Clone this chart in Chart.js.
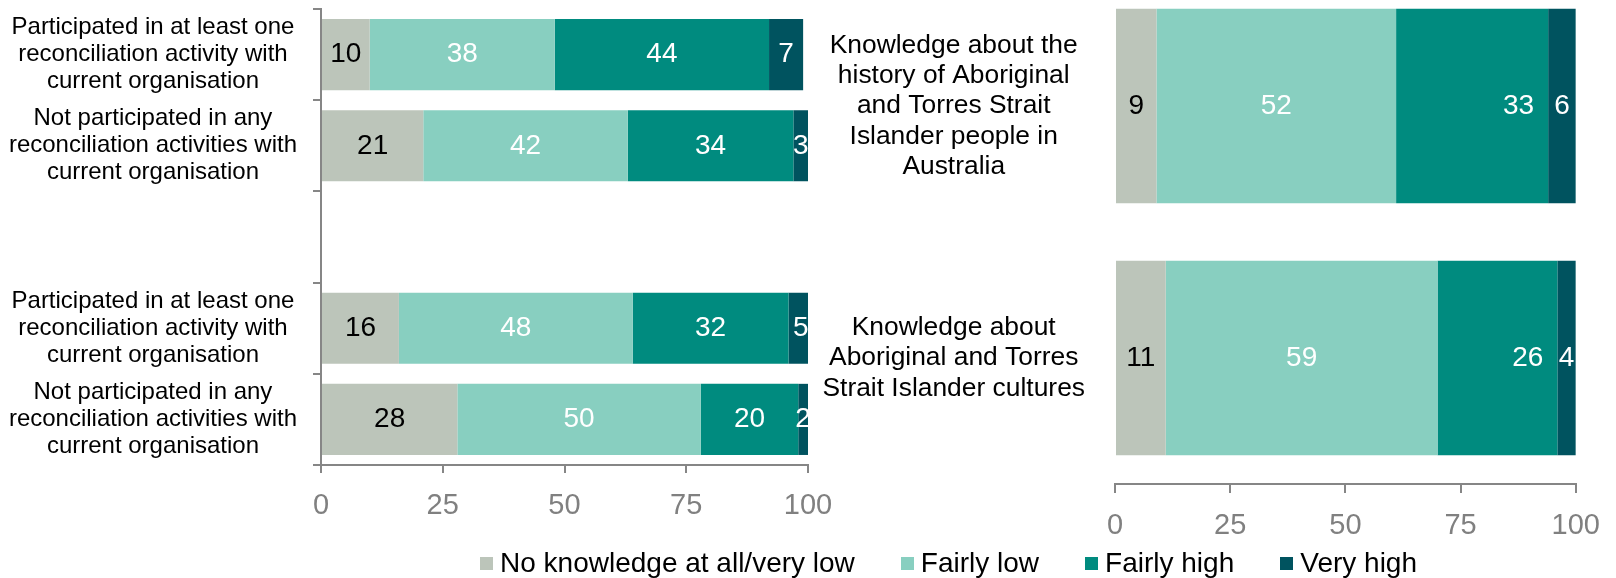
<!DOCTYPE html>
<html>
<head>
<meta charset="utf-8">
<script src="https://cdn.jsdelivr.net/npm/chart.js@4/dist/chart.umd.min.js"></script>
<style>
    body { margin: 0; width: 1616px; height: 578px; background: #fff; position: relative; overflow: hidden; font-family: "Liberation Sans", Arial, sans-serif; }
    #graficoParticipacion { position: absolute; left: 0; top: 0; }
    #graficoConocimiento { position: absolute; left: 800px; top: -20px; }
    #leyenda { position: absolute; left: 480px; top: 547px; display: flex; align-items: center; font-size: 28px; line-height: 32px; color: #000; white-space: nowrap; }
    #leyenda .item { display: flex; align-items: center; margin-right: 46px; }
    #leyenda .item:last-child { margin-right: 0; }
    #leyenda .cuadro { width: 13px; height: 13px; margin-right: 7px; }
</style>
</head>
<body>
<canvas id="graficoParticipacion" width="860" height="578"></canvas>
<canvas id="graficoConocimiento" width="816" height="598"></canvas>
<div id="leyenda"></div>

<script>
const seriesNames = ["No knowledge at all/very low", "Fairly low", "Fairly high", "Very high"];
const seriesColors = ["#BCC5BA", "#88CFC0", "#008B7F", "#00535F"];
const valueColors = ["#000000", "#FFFFFF", "#FFFFFF", "#FFFFFF"];
const axisTicks = [0, 25, 50, 75, 100];

// left panel: participation groups, third row left empty as a spacer
const participationLabels = [
    ["Participated in at least one", "reconciliation activity with", "current organisation"],
    ["Not participated in any", "reconciliation activities with", "current organisation"],
    "",
    ["Participated in at least one", "reconciliation activity with", "current organisation"],
    ["Not participated in any", "reconciliation activities with", "current organisation"]
];
const partVeryLow = [10, 21, null, 16, 28];
const partFairlyLow = [38, 42, null, 48, 50];
const partFairlyHigh = [44, 34, null, 32, 20];
const partVeryHigh = [7, 3, null, 5, 2];

// right panel: knowledge topics
const knowledgeLabels = [
    ["Knowledge about the", "history of Aboriginal", "and Torres Strait", "Islander people in", "Australia"],
    ["Knowledge about", "Aboriginal and Torres", "Strait Islander cultures"]
];
const knowVeryLow = [9, 11];
const knowFairlyLow = [52, 59];
const knowFairlyHigh = [33, 26];
const knowVeryHigh = [6, 4];

const FONT = '"Liberation Sans", Arial, sans-serif';
const GRIS = "#868686";

// numbers written on each segment, clipped to the plot area
const etiquetasValores = {
    id: "etiquetasValores",
    afterDatasetsDraw(chart, args, opts) {
        const { ctx, chartArea } = chart;
        ctx.save();
        ctx.beginPath();
        ctx.rect(chartArea.left, chartArea.top, chartArea.right - chartArea.left, chartArea.bottom - chartArea.top);
        ctx.clip();
        ctx.font = "28px " + FONT;
        ctx.textBaseline = "middle";
        chart.data.datasets.forEach((ds, i) => {
            chart.getDatasetMeta(i).data.forEach((bar, j) => {
                let v = ds.data[j];
                if (v === null || v === undefined) return;
                let izq = Math.min(bar.x, bar.base);
                let der = Math.max(bar.x, bar.base);
                ctx.fillStyle = valueColors[i];
                if (opts.alFinal && opts.alFinal.includes(i)) {
                    ctx.textAlign = "right";
                    ctx.fillText(String(v), der - 14, bar.y);
                } else {
                    ctx.textAlign = "center";
                    ctx.fillText(String(v), (izq + der) / 2, bar.y);
                }
            });
        });
        ctx.restore();
    }
};

function armarDatasets(series, grosor) {
    return series.map((data, i) => ({
        label: seriesNames[i],
        data: data,
        backgroundColor: seriesColors[i],
        borderWidth: 0,
        categoryPercentage: 1,
        barPercentage: grosor
    }));
}

function ejeX(alto, largoTick) {
    return {
        stacked: true,
        min: 0,
        max: 100,
        afterBuildTicks: (scale) => { scale.ticks = axisTicks.map(v => ({ value: v })); },
        afterFit: (scale) => { scale.height = alto; },
        border: { display: true, color: GRIS, width: 2 },
        grid: { drawOnChartArea: false, drawTicks: true, tickLength: largoTick, color: GRIS, lineWidth: 2 },
        ticks: { color: "#808080", font: { family: FONT, size: 29 }, padding: 16, maxRotation: 0 }
    };
}

// fixed width for the category column, and no extra room above/below for the wrapped labels
function ejeY(ancho) {
    return (scale) => {
        scale.width = ancho;
        scale.paddingTop = 0;
        scale.paddingBottom = 0;
    };
}

function graficoParticipacion() {
    new Chart(document.getElementById("graficoParticipacion"), {
        type: "bar",
        data: {
            labels: participationLabels,
            datasets: armarDatasets([partVeryLow, partFairlyLow, partFairlyHigh, partVeryHigh], 0.78)
        },
        options: {
            indexAxis: "y",
            responsive: false,
            animation: false,
            layout: { padding: { top: 9, right: 52, bottom: 0, left: 0 } },
            plugins: {
                legend: { display: false },
                tooltip: { enabled: false },
                etiquetasValores: {}
            },
            scales: {
                x: ejeX(113, 8),
                y: {
                    stacked: true,
                    afterFit: ejeY(321),
                    border: { display: true, color: GRIS, width: 2 },
                    grid: { offset: true, drawOnChartArea: false, drawTicks: true, tickLength: 8, color: GRIS, lineWidth: 2 },
                    ticks: { autoSkip: false, crossAlign: "center", padding: 16, color: "#000", font: { family: FONT, size: 24, lineHeight: 1.125 } }
                }
            }
        },
        plugins: [etiquetasValores]
    });
}

function graficoConocimiento() {
    new Chart(document.getElementById("graficoConocimiento"), {
        type: "bar",
        data: {
            labels: knowledgeLabels,
            datasets: armarDatasets([knowVeryLow, knowFairlyLow, knowFairlyHigh, knowVeryHigh], 0.771)
        },
        options: {
            indexAxis: "y",
            responsive: false,
            animation: false,
            layout: { padding: { top: 0, right: 34, bottom: 0, left: 0 } },
            plugins: {
                legend: { display: false },
                tooltip: { enabled: false },
                etiquetasValores: { alFinal: [2] }
            },
            scales: {
                x: ejeX(94, 9),
                y: {
                    stacked: true,
                    afterFit: ejeY(315),
                    border: { display: false },
                    grid: { display: false },
                    ticks: { autoSkip: false, crossAlign: "center", padding: 22, color: "#000", font: { family: FONT, size: 26.4, lineHeight: 1.15 } }
                }
            }
        },
        plugins: [etiquetasValores]
    });
}

function cargarLeyenda() {
    let leyenda = document.getElementById("leyenda");
    leyenda.innerHTML = "";
    seriesNames.forEach((nombre, i) => {
        leyenda.innerHTML += `<span class="item"><span class="cuadro" style="background:${seriesColors[i]}"></span>${nombre}</span>`;
    });
}

document.addEventListener("DOMContentLoaded", () => {
    graficoParticipacion();
    graficoConocimiento();
    cargarLeyenda();
});
</script>
</body>
</html>
